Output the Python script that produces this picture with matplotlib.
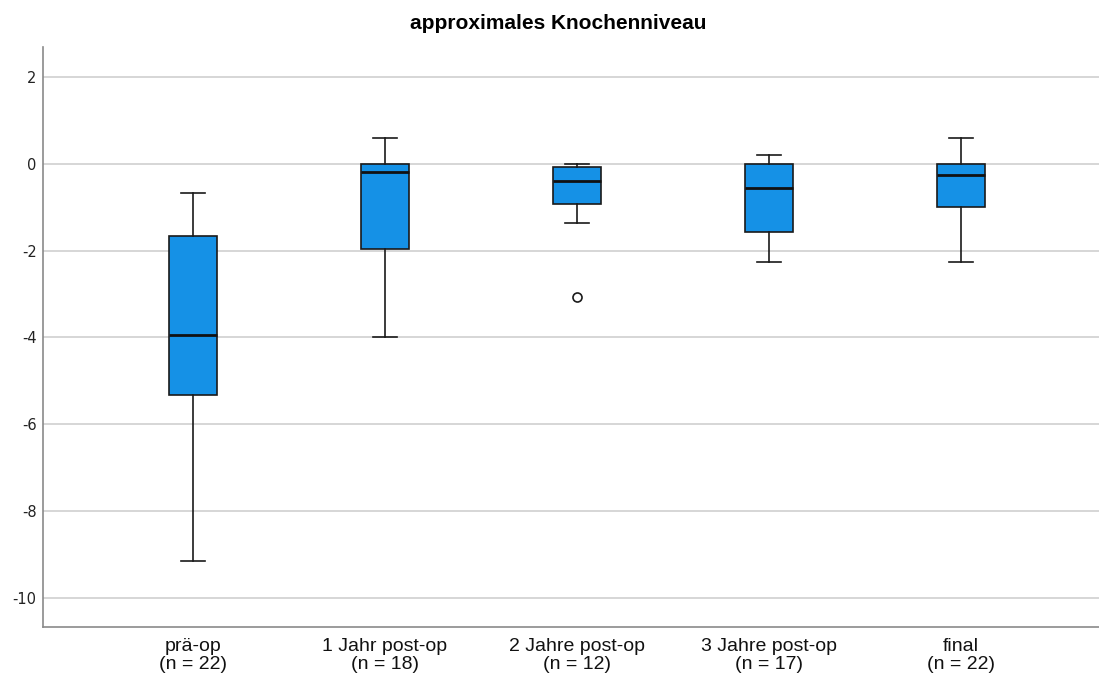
import matplotlib.pyplot as plt

plt.rcParams["axes.unicode_minus"] = False

# ── Data ─────────────────────────────────────────────────────
labels   = ["prä-op\n(n = 22)", "1 Jahr post-op\n(n = 18)", "2 Jahre post-op\n(n = 12)",
            "3 Jahre post-op\n(n = 17)", "final\n(n = 22)"]
whislo   = [-9.15, -3.99, -1.36, -2.26, -2.26]
q1       = [-5.32, -1.96, -0.92, -1.57, -0.99]
median   = [-3.94, -0.18, -0.39, -0.55, -0.25]
q3       = [-1.66,  0.00, -0.07,  0.00,  0.00]
whishi   = [-0.67,  0.60,  0.00,  0.21,  0.60]
outliers = [[], [], [-3.06], [], []]

stats = [dict(whislo=a, q1=b, med=c, q3=d, whishi=e, fliers=f)
         for a, b, c, d, e, f in zip(whislo, q1, median, q3, whishi, outliers)]

fig = plt.figure(figsize=(10.99, 6.77), dpi=100)
ax = fig.add_axes([0.039, 0.074, 0.961, 0.857])

ax.bxp(stats, positions=range(1, 6), widths=0.25, patch_artist=True,
       boxprops=dict(facecolor="#1591E6", edgecolor="#1a1a1a", linewidth=1.2),
       medianprops=dict(color="#111111", linewidth=2),
       whiskerprops=dict(color="#1a1a1a", linewidth=1.2),
       capprops=dict(color="#1a1a1a", linewidth=1.2),
       capwidths=0.125,
       flierprops=dict(marker="o", markerfacecolor="white", markeredgecolor="#1a1a1a",
                       markersize=6.5, markeredgewidth=1.2),
       zorder=3)

ax.set_xlim(0.22, 5.72)
ax.set_ylim(-10.67, 2.7)
ax.set_yticks([2, 0, -2, -4, -6, -8, -10])
ax.set_xticks(range(1, 6))
ax.set_xticklabels(labels, fontsize=14, color="#111111", linespacing=1.05,
                   family="Liberation Sans")
ax.tick_params(axis="y", length=0, labelsize=10.5, pad=4.5, labelcolor="#222222")
ax.tick_params(axis="x", length=0, pad=8)

ax.grid(axis="y", color="#cfcfcf", linewidth=1.2, zorder=0)
ax.set_axisbelow(True)
for side in ["top", "right"]:
    ax.spines[side].set_visible(False)
for side in ["left", "bottom"]:
    ax.spines[side].set_color("#8a8a8a")
    ax.spines[side].set_linewidth(1.2)

fig.suptitle("approximales Knochenniveau", fontsize=15, fontweight="bold",
             x=0.508, y=0.98, family="Liberation Sans")

fig.savefig("out.png", dpi=100)
